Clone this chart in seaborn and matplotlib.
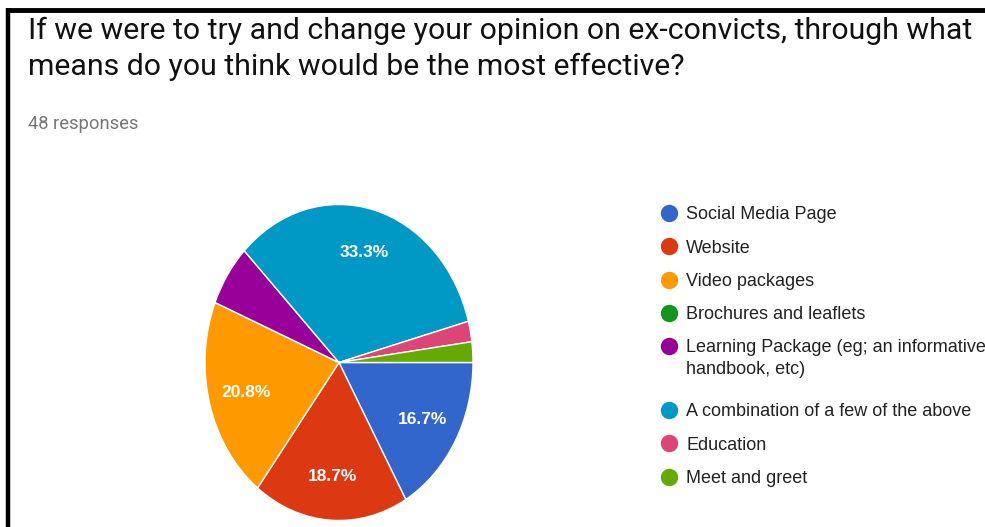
import matplotlib
matplotlib.use("Agg")
import matplotlib.pyplot as plt
from matplotlib.lines import Line2D
import seaborn as sns

# Survey answers (percent of 48 responses), in the order they are listed
categories = [
    "Social Media Page",
    "Website",
    "Video packages",
    "Brochures and leaflets",
    "Learning Package (eg; an informative\nhandbook, etc)",
    "A combination of a few of the above",
    "Education",
    "Meet and greet",
]
percentages = [16.7, 18.7, 20.8, 0.0, 6.3, 33.3, 2.1, 2.1]
colors = ["#3366cc", "#dc3912", "#ff9900", "#109618",
          "#990099", "#0099c6", "#dd4477", "#66aa00"]

title_lines = [
    "If we were to try and change your opinion on ex-convicts, through what",
    "means do you think would be the most effective?",
]
subtitle = "48 responses"

sns.set_theme(style="white")
plt.rcParams["font.family"] = ["Roboto", "DejaVu Sans"]
chart_font = ["Liberation Sans", "DejaVu Sans"]

W, H = 985, 527
fig = plt.figure(figsize=(W / 100, H / 100), dpi=100)
fig.patch.set_facecolor("white")


def fx(px):
    return px / W


def fy(py):
    return 1 - py / H


# Pie: slightly taller than wide
cx, cy, rx, ry = 339, 362.5, 134, 158
ax = fig.add_axes([fx(cx - rx), fy(cy + ry), 2 * rx / W, 2 * ry / H])


def pct_label(p):
    return f"{p:.1f}%" if p >= 10 else ""


wedges, texts, autotexts = ax.pie(
    percentages,
    colors=colors,
    startangle=0,
    counterclock=False,
    autopct=pct_label,
    pctdistance=0.72,
    wedgeprops=dict(edgecolor="white", linewidth=1.0),
    textprops=dict(color="white", fontsize=12.5, fontweight="bold",
                   family=chart_font),
)
ax.set_aspect("auto")
ax.set_xlim(-1, 1)
ax.set_ylim(-1, 1)
ax.axis("off")

# Titles
fig.text(fx(28), fy(39), title_lines[0], fontsize=21.8, color="#111111",
         va="baseline", ha="left")
fig.text(fx(28), fy(75), title_lines[1], fontsize=21.8, color="#111111",
         va="baseline", ha="left")
fig.text(fx(28), fy(129), subtitle, fontsize=13.2, color="#777777",
         va="baseline", ha="left")

# Legend: coloured dot followed by the label, one row per answer
row_y = 213.0
for label, color in zip(categories, colors):
    fig.add_artist(Line2D([fx(669)], [fy(row_y)], marker="o",
                          linestyle="none", markersize=11.5,
                          markerfacecolor=color, markeredgecolor=color))
    lines = label.split("\n")
    for k, line in enumerate(lines):
        fig.text(fx(686), fy(row_y + 6.3 + 21.5 * k), line, fontsize=13,
                 color="#222222", va="baseline", ha="left",
                 family=chart_font)
    row_y += 33.3 + 30.5 * (len(lines) - 1)

# Black frame on the top and left edges
fig.add_artist(Line2D([fx(6), fx(W)], [fy(10), fy(10)], color="black",
                      linewidth=3.5, solid_capstyle="butt"))
fig.add_artist(Line2D([fx(8), fx(8)], [fy(8), fy(H)], color="black",
                      linewidth=3.2, solid_capstyle="butt"))

fig.savefig("out.png", dpi=100, facecolor="white")
